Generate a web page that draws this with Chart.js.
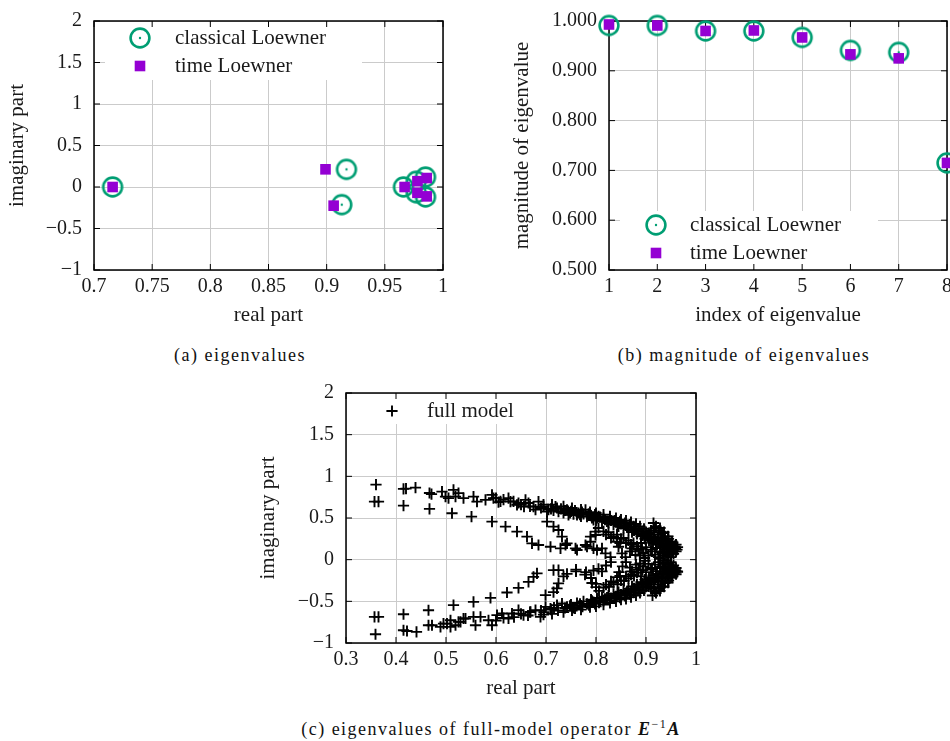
<!DOCTYPE html>
<html>
<head>
<meta charset="utf-8">
<script src="https://cdn.jsdelivr.net/npm/chart.js@4"></script>
<style>
  html, body { margin: 0; padding: 0; background: #fff; overflow: hidden; width: 950px; height: 741px; }
  canvas { position: absolute; }
  .cap { position: absolute; font-family: "Liberation Serif", serif; font-size: 18px; letter-spacing: 1.5px;
         color: #111; white-space: nowrap; transform: translateX(-50%); }
</style>
</head>
<body>
<canvas id="chartA" width="460" height="345" style="left:0;top:0"></canvas>
<canvas id="chartB" width="470" height="345" style="left:490px;top:0"></canvas>
<canvas id="chartC" width="480" height="330" style="left:240px;top:380px"></canvas>
<div class="cap" style="left:240px;top:345px">(a) eigenvalues</div>
<div class="cap" style="left:744px;top:345px">(b) magnitude of eigenvalues</div>
<div class="cap" style="left:491px;top:717px">(c) eigenvalues of full-model operator <b><i>E</i></b><sup style="font-size:12px">−1</sup><b><i>A</i></b></div>
<script>
// (a) eigenvalues of the two reduced models
const classicalRe = [0.716, 0.917, 0.913, 0.966, 0.977, 0.977, 0.985, 0.985];
const classicalIm = [0.000, 0.213, -0.213, 0.000, 0.070, -0.070, 0.120, -0.120];
const timeRe = [0.716, 0.899, 0.906, 0.967, 0.978, 0.978, 0.986, 0.986];
const timeIm = [0.000, 0.213, -0.225, 0.000, 0.070, -0.070, 0.108, -0.113];

// (b) magnitudes, sorted
const eigIndex = [1, 2, 3, 4, 5, 6, 7, 8];
const classicalMag = [0.991, 0.991, 0.980, 0.980, 0.967, 0.941, 0.937, 0.715];
const timeMag = [0.993, 0.991, 0.980, 0.981, 0.967, 0.933, 0.925, 0.715];

// (c) full model eigenvalues [re, im], upper half plane
const fullUpper = [
  [0.360, 0.900], [0.415, 0.850], [0.420, 0.852], [0.439, 0.865], [0.467, 0.800], [0.471, 0.786],
  [0.492, 0.817], [0.499, 0.757], [0.505, 0.738], [0.515, 0.837], [0.519, 0.757], [0.525, 0.798],
  [0.535, 0.738], [0.555, 0.757], [0.562, 0.697], [0.579, 0.717], [0.592, 0.777], [0.595, 0.738],
  [0.605, 0.690], [0.609, 0.700], [0.625, 0.738], [0.629, 0.697], [0.642, 0.657], [0.645, 0.680],
  [0.659, 0.717], [0.656, 0.637], [0.675, 0.637], [0.679, 0.600], [0.685, 0.697], [0.702, 0.577],
  [0.705, 0.600], [0.719, 0.637], [0.725, 0.577], [0.742, 0.597], [0.745, 0.537], [0.762, 0.537],
  [0.765, 0.560], [0.779, 0.597], [0.782, 0.516], [0.795, 0.476], [0.802, 0.500],
  [0.730, 0.610], [0.735, 0.560], [0.750, 0.580], [0.755, 0.545], [0.770, 0.520], [0.775, 0.550],
  [0.790, 0.530], [0.800, 0.470], [0.808, 0.510], [0.812, 0.460], [0.818, 0.480], [0.825, 0.440],
  [0.830, 0.470], [0.835, 0.420], [0.840, 0.450], [0.845, 0.400], [0.850, 0.430], [0.855, 0.380],
  [0.860, 0.410], [0.865, 0.360], [0.870, 0.390], [0.872, 0.330], [0.878, 0.360], [0.882, 0.310],
  [0.886, 0.340], [0.890, 0.280], [0.894, 0.310], [0.898, 0.250], [0.902, 0.290], [0.906, 0.230],
  [0.910, 0.260], [0.914, 0.200], [0.918, 0.240], [0.922, 0.180], [0.926, 0.210], [0.930, 0.150],
  [0.934, 0.190], [0.938, 0.120], [0.942, 0.160], [0.946, 0.100], [0.950, 0.140], [0.955, 0.120],
  [0.958, 0.160], [0.915, 0.330], [0.920, 0.400], [0.925, 0.300], [0.930, 0.260], [0.940, 0.220],
  [0.948, 0.200], [0.952, 0.180], [0.910, 0.350], [0.905, 0.320], [0.896, 0.370], [0.888, 0.400],
  [0.880, 0.430], [0.870, 0.450], [0.860, 0.470], [0.850, 0.480], [0.840, 0.500], [0.828, 0.520],
  [0.815, 0.540], [0.800, 0.560], [0.788, 0.570], [0.770, 0.600], [0.752, 0.620], [0.735, 0.640],
  [0.712, 0.660], [0.695, 0.660],
  [0.600, 0.740], [0.615, 0.720], [0.635, 0.700], [0.650, 0.660], [0.665, 0.680], [0.668, 0.640],
  [0.690, 0.620], [0.695, 0.640], [0.710, 0.610], [0.715, 0.590], [0.722, 0.620], [0.738, 0.590],
  [0.748, 0.560], [0.758, 0.590], [0.768, 0.540], [0.772, 0.570], [0.785, 0.550], [0.792, 0.500],
  [0.798, 0.540], [0.805, 0.520], [0.815, 0.500], [0.822, 0.460], [0.828, 0.490], [0.838, 0.470],
  [0.843, 0.430], [0.848, 0.460], [0.858, 0.440], [0.862, 0.390], [0.868, 0.420], [0.875, 0.400],
  [0.876, 0.350], [0.884, 0.370], [0.892, 0.340], [0.893, 0.290], [0.900, 0.330], [0.904, 0.270],
  [0.908, 0.300], [0.916, 0.280], [0.920, 0.220], [0.924, 0.260], [0.932, 0.230], [0.936, 0.170],
  [0.944, 0.180], [0.948, 0.130], [0.953, 0.100], [0.957, 0.130], [0.960, 0.180], [0.963, 0.150],
  [0.952, 0.220], [0.944, 0.280], [0.936, 0.330], [0.928, 0.380],
  [0.357, 0.697], [0.365, 0.697], [0.415, 0.649], [0.467, 0.609], [0.512, 0.557], [0.551, 0.516],
  [0.592, 0.456], [0.619, 0.396], [0.642, 0.336], [0.662, 0.276], [0.672, 0.196], [0.685, 0.176],
  [0.709, 0.155], [0.729, 0.136], [0.762, 0.116], [0.782, 0.155], [0.795, 0.136],
  [0.702, 0.456], [0.715, 0.396], [0.725, 0.356], [0.732, 0.276], [0.739, 0.176], [0.742, 0.196],
  [0.759, 0.136], [0.779, 0.176], [0.789, 0.215], [0.789, 0.276], [0.799, 0.336], [0.799, 0.296],
  [0.802, 0.116], [0.812, 0.136], [0.819, 0.076], [0.829, 0.030], [0.842, 0.215], [0.845, 0.155],
  [0.852, 0.076], [0.859, 0.030], [0.872, 0.136], [0.879, 0.056], [0.820, 0.300], [0.830, 0.260],
  [0.850, 0.250], [0.860, 0.200], [0.870, 0.180], [0.885, 0.120], [0.890, 0.200], [0.895, 0.080],
  [0.900, 0.150], [0.905, 0.050], [0.912, 0.100], [0.918, 0.060], [0.925, 0.030], [0.935, 0.050],
  [0.945, 0.040], [0.955, 0.070], [0.960, 0.100],
  [0.805, 0.380], [0.815, 0.340], [0.825, 0.330], [0.835, 0.280], [0.842, 0.300], [0.848, 0.200],
  [0.855, 0.260], [0.865, 0.230], [0.868, 0.100], [0.875, 0.200], [0.882, 0.160], [0.888, 0.050],
  [0.892, 0.130], [0.897, 0.020],
  [0.915, 0.440], [0.918, 0.380], [0.925, 0.350], [0.932, 0.320], [0.938, 0.280], [0.945, 0.250],
  [0.959, 0.140], [0.962, 0.120], [0.956, 0.150], [0.928, 0.100], [0.933, 0.080], [0.942, 0.060],
  [0.950, 0.030], [0.910, 0.120], [0.920, 0.140], [0.928, 0.010]
];

// (c) full model eigenvalues [re, im], lower half plane
const fullLower = [
  [0.359, -0.895], [0.415, -0.847], [0.422, -0.856], [0.441, -0.867], [0.465, -0.787], [0.472, -0.787],
  [0.489, -0.807], [0.495, -0.767], [0.502, -0.767], [0.509, -0.807], [0.509, -0.727], [0.519, -0.787],
  [0.525, -0.747], [0.529, -0.747], [0.535, -0.706], [0.539, -0.706], [0.555, -0.687], [0.559, -0.787],
  [0.569, -0.687], [0.585, -0.727], [0.592, -0.787], [0.602, -0.666], [0.612, -0.646], [0.625, -0.706],
  [0.632, -0.646], [0.645, -0.606], [0.655, -0.666], [0.669, -0.626], [0.679, -0.606], [0.689, -0.687],
  [0.699, -0.566], [0.709, -0.586], [0.722, -0.546], [0.732, -0.526], [0.742, -0.566],
  [0.750, -0.540], [0.755, -0.580], [0.762, -0.520], [0.770, -0.550], [0.775, -0.500], [0.782, -0.530],
  [0.790, -0.480], [0.795, -0.510], [0.802, -0.460], [0.808, -0.500], [0.812, -0.450], [0.818, -0.470],
  [0.825, -0.430], [0.830, -0.460], [0.835, -0.410], [0.840, -0.440], [0.845, -0.390], [0.850, -0.420],
  [0.855, -0.370], [0.860, -0.400], [0.865, -0.350], [0.870, -0.380], [0.872, -0.320], [0.878, -0.350],
  [0.882, -0.300], [0.886, -0.330], [0.890, -0.270], [0.894, -0.300], [0.898, -0.240], [0.902, -0.280],
  [0.906, -0.220], [0.910, -0.250], [0.914, -0.190], [0.918, -0.230], [0.922, -0.170], [0.926, -0.200],
  [0.930, -0.140], [0.934, -0.180], [0.938, -0.110], [0.942, -0.150], [0.946, -0.090], [0.950, -0.130],
  [0.955, -0.110], [0.958, -0.150], [0.915, -0.330], [0.920, -0.400], [0.925, -0.300], [0.930, -0.260],
  [0.940, -0.220], [0.948, -0.200], [0.952, -0.180], [0.910, -0.350], [0.905, -0.320], [0.896, -0.370],
  [0.888, -0.400], [0.880, -0.430], [0.870, -0.450], [0.860, -0.470], [0.850, -0.480], [0.840, -0.500],
  [0.828, -0.520], [0.815, -0.540], [0.800, -0.560], [0.788, -0.570], [0.770, -0.600], [0.752, -0.610],
  [0.735, -0.630], [0.712, -0.650], [0.695, -0.660],
  [0.600, -0.730], [0.615, -0.700], [0.636, -0.690], [0.650, -0.650], [0.664, -0.670], [0.668, -0.630],
  [0.690, -0.610], [0.696, -0.630], [0.710, -0.600], [0.716, -0.575], [0.724, -0.610], [0.738, -0.580],
  [0.748, -0.555], [0.758, -0.585], [0.768, -0.530], [0.773, -0.565], [0.786, -0.545], [0.792, -0.495],
  [0.798, -0.530], [0.806, -0.515], [0.815, -0.495], [0.822, -0.455], [0.828, -0.485], [0.838, -0.465],
  [0.843, -0.425], [0.848, -0.455], [0.858, -0.435], [0.862, -0.385], [0.868, -0.415], [0.875, -0.395],
  [0.876, -0.345], [0.884, -0.365], [0.892, -0.335], [0.893, -0.285], [0.900, -0.325], [0.904, -0.265],
  [0.908, -0.295], [0.916, -0.275], [0.920, -0.215], [0.924, -0.255], [0.932, -0.225], [0.936, -0.165],
  [0.944, -0.175], [0.948, -0.125], [0.953, -0.095], [0.957, -0.125], [0.960, -0.175], [0.963, -0.145],
  [0.952, -0.215], [0.944, -0.275], [0.936, -0.325], [0.928, -0.375],
  [0.357, -0.687], [0.365, -0.687], [0.415, -0.655], [0.465, -0.607], [0.515, -0.546], [0.555, -0.506],
  [0.589, -0.458], [0.622, -0.394], [0.645, -0.338], [0.665, -0.266], [0.675, -0.206], [0.682, -0.165],
  [0.715, -0.125], [0.725, -0.125], [0.760, -0.120], [0.780, -0.150], [0.795, -0.130],
  [0.699, -0.426], [0.715, -0.390], [0.722, -0.345], [0.725, -0.285], [0.735, -0.200], [0.742, -0.170],
  [0.760, -0.140], [0.778, -0.180], [0.790, -0.220], [0.792, -0.280], [0.800, -0.330], [0.800, -0.290],
  [0.805, -0.110], [0.812, -0.140], [0.820, -0.070], [0.830, -0.030], [0.842, -0.210], [0.846, -0.150],
  [0.853, -0.080], [0.860, -0.030], [0.872, -0.140], [0.880, -0.060], [0.820, -0.300], [0.830, -0.260],
  [0.850, -0.250], [0.860, -0.200], [0.870, -0.180], [0.885, -0.120], [0.890, -0.200], [0.895, -0.080],
  [0.900, -0.150], [0.905, -0.050], [0.912, -0.100], [0.918, -0.060], [0.925, -0.030], [0.935, -0.050],
  [0.945, -0.040], [0.955, -0.070], [0.960, -0.100],
  [0.806, -0.375], [0.815, -0.335], [0.826, -0.325], [0.835, -0.275], [0.843, -0.295], [0.848, -0.195],
  [0.856, -0.255], [0.865, -0.225], [0.868, -0.095], [0.876, -0.195], [0.882, -0.155], [0.888, -0.045],
  [0.893, -0.125], [0.898, -0.015],
  [0.913, -0.430], [0.918, -0.380], [0.925, -0.350], [0.932, -0.320], [0.938, -0.280], [0.945, -0.250],
  [0.959, -0.125], [0.962, -0.140], [0.956, -0.160], [0.928, -0.100], [0.933, -0.080], [0.942, -0.060],
  [0.950, -0.030], [0.910, -0.120], [0.920, -0.140], [0.938, -0.010]
];

const GREEN = '#009e73';
const PURPLE = '#9400d3';
const INK = '#1a1a1a';
const FONT = '"Liberation Serif", serif';

Chart.defaults.font.family = FONT;
Chart.defaults.color = INK;

// circle with a centre dot
function ringMarker() {
  const c = document.createElement('canvas');
  c.width = 26; c.height = 26;
  const g = c.getContext('2d');
  g.strokeStyle = GREEN; g.lineWidth = 2.6;
  g.beginPath(); g.arc(13, 13, 9.4, 0, Math.PI * 2); g.stroke();
  g.fillStyle = GREEN;
  g.beginPath(); g.arc(13, 13, 1.2, 0, Math.PI * 2); g.fill();
  return c;
}
const ring = ringMarker();

function drawMarker(ctx, kind, x, y) {
  if (kind === 'ring') {
    ctx.drawImage(ring, x - 13, y - 13);
  } else if (kind === 'square') {
    ctx.fillStyle = PURPLE;
    ctx.fillRect(x - 5.3, y - 5.3, 10.6, 10.6);
  } else {
    ctx.strokeStyle = '#000'; ctx.lineWidth = 1.9;
    ctx.beginPath();
    ctx.moveTo(x - 5.6, y); ctx.lineTo(x + 5.6, y);
    ctx.moveTo(x, y - 5.6); ctx.lineTo(x, y + 5.6);
    ctx.stroke();
  }
}

// frame, inward tick marks and an opaque key box
function decor(id, legend) {
  return {
    id: id,
    beforeDatasetsDraw(chart) {
      const {ctx, chartArea: a, scales: {x, y}} = chart;
      ctx.save();
      ctx.fillStyle = '#fff';
      ctx.fillRect(legend.box[0], legend.box[1], legend.box[2], legend.box[3]);
      ctx.strokeStyle = '#000';
      ctx.lineWidth = 1;
      ctx.beginPath();
      x.ticks.forEach(t => {
        const p = x.getPixelForValue(t.value);
        ctx.moveTo(p, a.bottom); ctx.lineTo(p, a.bottom - 6);
        ctx.moveTo(p, a.top); ctx.lineTo(p, a.top + 6);
      });
      y.ticks.forEach(t => {
        const p = y.getPixelForValue(t.value);
        ctx.moveTo(a.left, p); ctx.lineTo(a.left + 6, p);
        ctx.moveTo(a.right, p); ctx.lineTo(a.right - 6, p);
      });
      ctx.stroke();
      ctx.lineWidth = 1.5;
      ctx.strokeRect(a.left, a.top, a.right - a.left, a.bottom - a.top);
      ctx.font = '21px ' + FONT;
      ctx.textBaseline = 'middle';
      ctx.textAlign = 'left';
      legend.items.forEach(it => {
        drawMarker(ctx, it.kind, it.mx, it.my);
        ctx.fillStyle = INK;
        ctx.fillText(it.text, it.tx, it.my);
      });
      ctx.restore();
    }
  };
}

const minus = v => String(+v.toFixed(2)).replace('-', '\u2212');

// fixed axis box; label overhang must not move the plot area
function fixSize(prop, size) {
  return s => {
    s[prop] = size;
    s.paddingTop = 0; s.paddingBottom = 0; s.paddingLeft = 0; s.paddingRight = 0;
  };
}

function axis(opts) {
  return {
    type: 'linear',
    min: opts.min, max: opts.max,
    afterFit: opts.fit,
    grid: { color: '#cbcbcb', lineWidth: 1, drawTicks: false },
    border: { display: false },
    ticks: {
      stepSize: opts.step, autoSkip: false, maxRotation: 0, minRotation: 0,
      padding: opts.pad, font: { size: 20 }, color: INK, callback: opts.fmt
    },
    title: { display: true, text: opts.title, font: { size: 21 }, color: INK, padding: opts.titlePad }
  };
}

function baseOptions(padRight, padTop, xAxis, yAxis) {
  return {
    responsive: false,
    animation: false,
    events: [],
    layout: { autoPadding: false, padding: { left: 0, right: padRight, top: padTop, bottom: 0 } },
    plugins: { legend: { display: false }, tooltip: { enabled: false } },
    scales: { x: xAxis, y: yAxis }
  };
}

// (a)
new Chart(document.getElementById('chartA'), {
  type: 'scatter',
  data: {
    datasets: [
      { label: 'time Loewner', order: 0, clip: false,
        data: timeRe.map((r, i) => ({ x: r, y: timeIm[i] })),
        pointStyle: 'rect', pointRadius: 7.5, backgroundColor: PURPLE, borderWidth: 0 },
      { label: 'classical Loewner', order: 1, clip: false,
        data: classicalRe.map((r, i) => ({ x: r, y: classicalIm[i] })),
        pointStyle: ring, pointRadius: 10 }
    ]
  },
  options: baseOptions(17, 21,
    axis({ min: 0.7, max: 1, step: 0.05, pad: 5, fmt: minus, title: 'real part',
           titlePad: { top: 0, bottom: 17 }, fit: fixSize('height', 75) }),
    axis({ min: -1, max: 2, step: 0.5, pad: 12, fmt: minus, title: 'imaginary part',
           titlePad: { top: 5, bottom: 0 }, fit: fixSize('width', 94) })),
  plugins: [decor('decorA', {
    box: [105, 22, 257, 58],
    items: [
      { kind: 'ring', mx: 140, my: 38, tx: 175, text: 'classical Loewner' },
      { kind: 'square', mx: 140, my: 66, tx: 175, text: 'time Loewner' }
    ]
  })]
});

// (b)
new Chart(document.getElementById('chartB'), {
  type: 'scatter',
  data: {
    datasets: [
      { label: 'time Loewner', order: 0, clip: false,
        data: eigIndex.map((k, i) => ({ x: k, y: timeMag[i] })),
        pointStyle: 'rect', pointRadius: 7.5, backgroundColor: PURPLE, borderWidth: 0 },
      { label: 'classical Loewner', order: 1, clip: false,
        data: eigIndex.map((k, i) => ({ x: k, y: classicalMag[i] })),
        pointStyle: ring, pointRadius: 10 }
    ]
  },
  options: baseOptions(13, 21,
    axis({ min: 1, max: 8, step: 1, pad: 5, fmt: v => String(v), title: 'index of eigenvalue',
           titlePad: { top: 0, bottom: 17 }, fit: fixSize('height', 75) }),
    axis({ min: 0.5, max: 1, step: 0.1, pad: 12, fmt: v => v.toFixed(3), title: 'magnitude of eigenvalue',
           titlePad: { top: 20, bottom: 0 }, fit: fixSize('width', 119) })),
  plugins: [decor('decorB', {
    box: [130, 211, 258, 58],
    items: [
      { kind: 'ring', mx: 166, my: 225, tx: 200, text: 'classical Loewner' },
      { kind: 'square', mx: 166, my: 253, tx: 200, text: 'time Loewner' }
    ]
  })]
});

// (c)
new Chart(document.getElementById('chartC'), {
  type: 'scatter',
  data: {
    datasets: [
      { label: 'full model', clip: false,
        data: fullUpper.concat(fullLower).map(p => ({ x: p[0], y: p[1] })),
        pointStyle: 'cross', pointRadius: 5.6, borderColor: '#000', borderWidth: 1.9 }
    ]
  },
  options: baseOptions(24, 13,
    axis({ min: 0.3, max: 1, step: 0.1, pad: 5, fmt: minus, title: 'real part',
           titlePad: { top: 0, bottom: 9 }, fit: fixSize('height', 67) }),
    axis({ min: -1, max: 2, step: 0.5, pad: 12, fmt: minus, title: 'imaginary part',
           titlePad: { top: 16, bottom: 0 }, fit: fixSize('width', 106) })),
  plugins: [decor('decorC', {
    box: [107, 14, 178, 30],
    items: [
      { kind: 'plus', mx: 152, my: 31, tx: 187, text: 'full model' }
    ]
  })]
});
</script>
</body>
</html>
